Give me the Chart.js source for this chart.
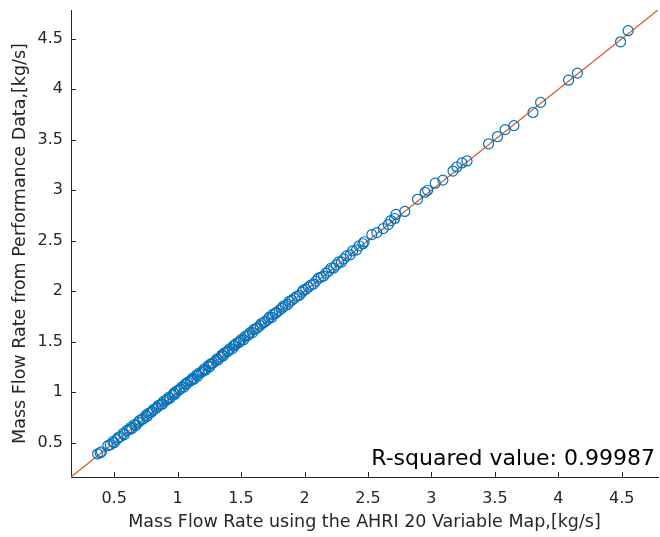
<!DOCTYPE html>
<html><head><meta charset="utf-8">
<script src="https://cdn.jsdelivr.net/npm/chart.js@4/dist/chart.umd.min.js"></script>
<style>html,body{margin:0;padding:0;background:#fff}#wrap{width:660px;height:537px;position:relative}</style>
</head><body><div id="wrap"><canvas id="c"></canvas></div>
<script>
// Data
const xValues = [0.37,0.39,0.40,0.45,0.47,0.49,0.50,0.52,0.53,0.55,0.57,0.58,0.60,0.62,
0.63,0.64,0.66,0.67,0.69,0.70,0.72,0.73,0.75,0.76,0.77,0.79,0.80,0.81,0.83,0.84,0.85,0.87,0.88,0.89,0.91,0.92,0.93,0.94,0.96,0.97,0.98,0.99,
1.01,1.02,1.03,1.05,1.06,1.07,1.08,1.10,1.11,1.12,1.13,1.15,1.16,1.17,1.19,1.20,1.21,1.22,1.24,1.25,1.26,1.27,1.28,1.30,1.31,1.32,1.34,1.35,1.36,1.37,1.39,1.40,1.41,1.43,1.44,1.45,1.46,1.48,1.49,
1.50,1.52,1.53,1.55,1.56,1.57,1.59,1.60,1.62,1.63,1.65,1.66,1.68,1.69,1.71,1.72,1.74,1.75,1.77,1.78,1.80,1.82,1.83,1.85,1.87,1.88,1.90,1.92,1.94,1.96,1.98,1.99,
2.01,2.03,2.05,2.07,2.09,2.11,2.13,2.15,2.17,2.19,2.21,2.23,2.25,2.27,2.29,2.31,2.33,2.36,2.38,2.41,2.43,2.46,2.47,
2.53,2.57,2.62,2.66,2.68,2.71,2.72,2.79,2.89,2.95,2.97,3.03,3.09,3.17,3.20,3.24,3.28,
3.45,3.52,3.58,3.65,3.80,3.86,4.08,4.15,4.49,4.55];
const yValues = [0.39,0.40,0.41,0.47,0.48,0.51,0.50,0.53,0.55,0.56,0.59,0.58,0.62,0.63,
0.65,0.64,0.68,0.67,0.70,0.72,0.73,0.74,0.77,0.76,0.79,0.80,0.81,0.83,0.84,0.85,0.87,0.88,0.88,0.91,0.92,0.93,0.95,0.94,0.97,0.99,0.98,1.01,
1.02,1.03,1.05,1.05,1.08,1.08,1.10,1.11,1.12,1.14,1.13,1.17,1.16,1.19,1.20,1.21,1.23,1.22,1.26,1.25,1.28,1.28,1.29,1.31,1.33,1.32,1.35,1.37,1.36,1.39,1.40,1.41,1.43,1.43,1.46,1.46,1.48,1.49,1.50,
1.52,1.52,1.55,1.56,1.57,1.59,1.59,1.62,1.63,1.64,1.66,1.68,1.69,1.70,1.72,1.74,1.74,1.77,1.78,1.79,1.81,1.83,1.85,1.86,1.87,1.90,1.91,1.93,1.95,1.96,1.99,2.01,
2.02,2.04,2.06,2.07,2.10,2.13,2.14,2.15,2.18,2.20,2.23,2.23,2.26,2.29,2.29,2.32,2.35,2.36,2.40,2.41,2.45,2.47,2.49,
2.56,2.58,2.62,2.66,2.70,2.72,2.76,2.79,2.91,2.98,3.00,3.07,3.10,3.19,3.23,3.27,3.29,
3.46,3.53,3.60,3.64,3.77,3.87,4.09,4.16,4.47,4.58];
const axisMin = 0.16;
const axisMax = 4.785;
const tickValues = [0.5,1,1.5,2,2.5,3,3.5,4,4.5];
const tickLabels = ['0.5','1','1.5','2','2.5','3','3.5','4','4.5'];
const lineEnds = [0.16, 4.785];
const xTitle = 'Mass Flow Rate using the AHRI 20 Variable Map,[kg/s]';
const yTitle = 'Mass Flow Rate from Performance Data,[kg/s]';
const rSquaredText = 'R-squared value: 0.99987';

const FONT = "'DejaVu Sans', sans-serif";
const TXT = '#262626';

const points = xValues.map((x, i) => ({x: x, y: yValues[i]}));
const linePts = lineEnds.map(v => ({x: v, y: v}));

const innerTicks = {
  id: 'innerTicks',
  afterDraw(chart) {
    const ctx = chart.ctx, a = chart.chartArea;
    const xs = chart.scales.x, ys = chart.scales.y;
    ctx.save();
    ctx.strokeStyle = TXT; ctx.lineWidth = 1;
    ctx.beginPath();
    tickValues.forEach(v => {
      const px = Math.round(xs.getPixelForValue(v)) + 0.5;
      ctx.moveTo(px, a.bottom); ctx.lineTo(px, a.bottom - 5);
      const py = Math.round(ys.getPixelForValue(v)) + 0.5;
      ctx.moveTo(a.left, py); ctx.lineTo(a.left + 5, py);
    });
    ctx.stroke();
    ctx.font = "22px " + FONT;
    ctx.fillStyle = '#000';
    ctx.textAlign = 'right';
    ctx.textBaseline = 'alphabetic';
    ctx.fillText(rSquaredText, a.right - 3, a.bottom - 12);
    ctx.restore();
  }
};

const tickCfg = {
  color: TXT,
  font: {family: FONT, size: 16},
  callback: (v) => { const i = tickValues.indexOf(v); return i >= 0 ? tickLabels[i] : ''; }
};

new Chart(document.getElementById('c'), {
  data: {
    datasets: [
      {type: 'line', data: linePts, borderColor: '#D95319', borderWidth: 1.2, pointRadius: 0, fill: false, order: 2},
      {type: 'scatter', data: points, borderColor: '#0072BD', backgroundColor: 'rgba(0,0,0,0)', pointRadius: 5, pointBorderWidth: 1.2, pointHoverRadius: 5, order: 1}
    ]
  },
  options: {
    responsive: true, maintainAspectRatio: false, animation: false,
    events: [],
    layout: {autoPadding: false, padding: {top: 10, right: 2, left: 0, bottom: 0}},
    plugins: {legend: {display: false}, tooltip: {enabled: false}},
    scales: {
      x: {
        type: 'linear', min: axisMin, max: axisMax,
        afterBuildTicks: s => { s.ticks = tickValues.map(v => ({value: v})); },
        afterFit: s => { s.height = 60; s.paddingLeft = 0; s.paddingRight = 0; },
        grid: {display: true, drawOnChartArea: false, drawTicks: false},
        border: {display: true, color: TXT, width: 1},
        ticks: Object.assign({padding: 12, maxRotation: 0, autoSkip: false}, tickCfg),
        title: {display: true, text: xTitle, color: TXT, font: {family: FONT, size: 17.5}, padding: {top: 0, bottom: 4}}
      },
      y: {
        type: 'linear', min: axisMin, max: axisMax,
        afterBuildTicks: s => { s.ticks = tickValues.map(v => ({value: v})); },
        afterFit: s => { s.width = 71; s.paddingTop = 0; s.paddingBottom = 0; },
        grid: {display: true, drawOnChartArea: false, drawTicks: false},
        border: {display: true, color: TXT, width: 1},
        ticks: Object.assign({padding: 8, autoSkip: false}, tickCfg),
        title: {display: true, text: yTitle, color: TXT, font: {family: FONT, size: 17.5}, padding: {top: 10, bottom: 0}}
      }
    }
  },
  plugins: [innerTicks]
});
</script></body></html>
